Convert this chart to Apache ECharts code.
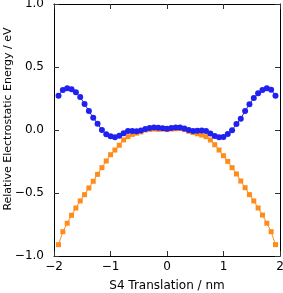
<!DOCTYPE html>
<html><head><meta charset="utf-8">
<script src="https://cdn.jsdelivr.net/npm/echarts@6/dist/echarts.min.js"></script>
<style>html,body{margin:0;padding:0;background:#fff}#c{width:283px;height:293px}</style>
</head><body><div id="c"></div>
<script>
const xStart = -1.92, xStep = 0.0768, nPts = 51;
const xValues = Array.from({length: nPts}, (_, i) => +(xStart + i * xStep).toFixed(4));
const blueValues = [0.272,0.317,0.331,0.323,0.299,0.262,0.206,0.151,0.098,0.050,0.0,-0.034,-0.050,-0.057,-0.045,-0.025,-0.008,-0.008,-0.010,-0.003,0.008,0.015,0.020,0.018,0.013,0.010,0.015,0.020,0.020,0.012,0.0,-0.008,-0.006,-0.004,-0.008,-0.028,-0.048,-0.058,-0.055,-0.032,-0.002,0.048,0.090,0.151,0.204,0.254,0.291,0.317,0.331,0.320,0.272];
const orangeValues = [-0.910,-0.807,-0.740,-0.677,-0.619,-0.563,-0.513,-0.460,-0.407,-0.352,-0.299,-0.246,-0.196,-0.159,-0.121,-0.079,-0.053,-0.035,-0.025,-0.015,0.0,0.005,0.008,0.005,0.008,0.003,0.008,0.010,0.012,0.003,-0.010,-0.020,-0.030,-0.040,-0.053,-0.079,-0.117,-0.159,-0.204,-0.249,-0.299,-0.349,-0.405,-0.458,-0.513,-0.563,-0.619,-0.675,-0.740,-0.807,-0.910];
const xTicks = [-2,-1,0,1,2];
const yTicks = [-1.0,-0.5,0.0,0.5,1.0];
const xName = 'S4 Translation / nm';
const yName = 'Relative Electrostatic Energy / eV';

const fmt = (v, d) => { const s = Math.abs(v).toFixed(d); return v < 0 ? '\u2212' + s : s; };
const font = 'DejaVu Sans';
const tickStyle = {show:true, inside:true, length:5, lineStyle:{color:'#333', width:1}};
const lineStyle = {show:true, onZero:false, lineStyle:{color:'#000', width:1}};
const chart = echarts.init(document.getElementById('c'), null, {renderer:'canvas'});
chart.setOption({
  animation:false,
  grid:{left:54, right:3, top:4, bottom:37, containLabel:false, outerBoundsMode:'none'},
  xAxis:[{
    type:'value', min:-2, max:2, interval:1,
    axisLine:lineStyle, axisTick:tickStyle, splitLine:{show:false},
    axisLabel:{fontFamily:font, fontSize:12, color:'#000', margin:5, formatter:v=>fmt(v,0)},
    name:xName, nameLocation:'middle', nameGap:24, nameMoveOverlap:false,
    nameTextStyle:{fontFamily:font, fontSize:12, color:'#000'}
  },{
    type:'value', min:-2, max:2, interval:1, position:'top',
    axisLine:lineStyle, axisTick:tickStyle, axisLabel:{show:false}, splitLine:{show:false}
  }],
  yAxis:[{
    type:'value', min:-1, max:1, interval:0.5,
    axisLine:lineStyle, axisTick:tickStyle, splitLine:{show:false},
    axisLabel:{fontFamily:font, fontSize:12, color:'#000', margin:10, formatter:v=>fmt(v,1)},
    name:yName, nameLocation:'middle', nameGap:40, nameMoveOverlap:false,
    nameTextStyle:{fontFamily:font, fontSize:11, color:'#000', padding:[0,0,0,22]}
  },{
    type:'value', min:-1, max:1, interval:0.5, position:'right',
    axisLine:lineStyle, axisTick:tickStyle, axisLabel:{show:false}, splitLine:{show:false}
  }],
  series:[{
    type:'line', data:xValues.map((x,i)=>[x, orangeValues[i]]),
    symbol:'rect', symbolSize:5, itemStyle:{color:'#ff8c1a'}, lineStyle:{color:'#ff8c1a', width:1}
  },{
    type:'line', data:xValues.map((x,i)=>[x, blueValues[i]]),
    symbol:'circle', symbolSize:6, itemStyle:{color:'#2020f0'}, lineStyle:{color:'#2020f0', width:1}
  }]
});
</script></body></html>
